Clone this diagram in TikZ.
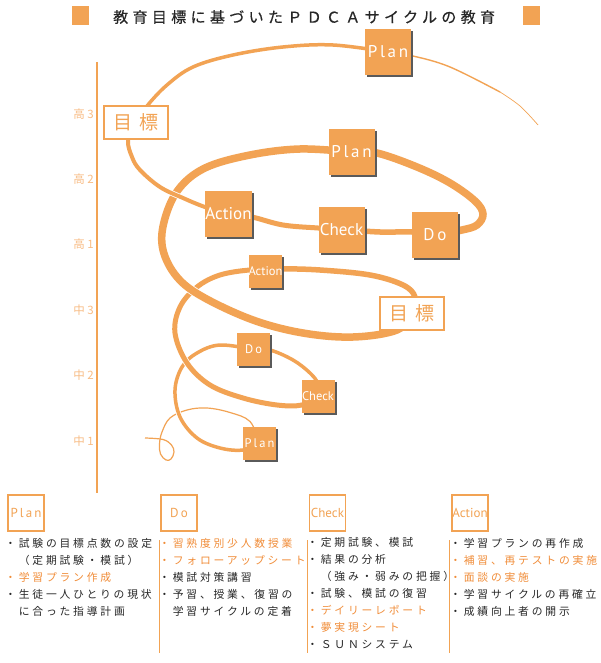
\documentclass[tikz,border=0pt]{standalone}
\usepackage{fontspec}
\usetikzlibrary{shadows}
\newfontfamily\jpfont{Noto Sans CJK JP}
\newfontfamily\titlefont[LetterSpace=29, FakeBold=0.5]{Noto Sans CJK JP}
\newfontfamily\bodyfont[LetterSpace=26]{Noto Sans CJK JP}
\newfontfamily\labelfont{PT Sans}
\newfontfamily\spacedfont[LetterSpace=16]{PT Sans}
\definecolor{coilorange}{HTML}{F2A354}
\definecolor{hilite}{HTML}{F08C38}
\definecolor{paleorange}{HTML}{F7BC85}
\definecolor{ink}{HTML}{262626}
\definecolor{shade}{HTML}{5A5A5A}
\pgfdeclarelayer{bg}
\pgfsetlayers{bg,main}

\begin{document}
\begin{tikzpicture}[
    x=1pt, y=-1pt,
    bigbox/.style={
        fill=coilorange, inner sep=0pt, minimum size=46pt,
        drop shadow={shadow xshift=2pt, shadow yshift=-2pt, fill=shade, opacity=1},
        text=white, font=\labelfont\fontsize{17}{17}\selectfont
    },
    smallbox/.style={
        bigbox, minimum size=33pt,
        font=\labelfont\fontsize{12.5}{12.5}\selectfont
    },
    goal/.style={
        draw=coilorange, line width=2pt, fill=white, inner sep=0pt,
        minimum width=64pt, minimum height=33pt,
        text=coilorange, font=\jpfont\fontsize{19}{19}\selectfont
    },
    headbox/.style={
        draw=coilorange, line width=1.2pt, fill=white, inner sep=0pt,
        minimum size=36pt, text=coilorange,
        font=\labelfont\fontsize{13}{13}\selectfont
    },
    coil/.style={draw=white, line width=0.8pt, double=coilorange, double distance=#1},
    level/.style={anchor=east, inner sep=0pt, text=paleorange,
        font=\jpfont\fontsize{11.5}{11.5}\selectfont},
    item/.style={anchor=base west, inner sep=0pt, text=ink,
        font=\bodyfont\fontsize{10.8}{10.8}\selectfont},
    sep/.style={draw=coilorange, line width=1pt}
]
\useasboundingbox (0,0) rectangle (600,663);

% === Title ===
\node[fill=coilorange, minimum width=17pt, minimum height=19pt, inner sep=0pt] (sqL) at (80.5,16) {};
\node[fill=coilorange, minimum width=17pt, minimum height=19pt, inner sep=0pt] (sqR) at (531,16) {};
\node[anchor=west, inner sep=0pt, text=ink, font=\titlefont\fontsize{15}{15}\selectfont]
    (title) at (113,17) {教育目標に基づいたＰＤＣＡサイクルの教育};

% === Level axis ===
\coordinate (axTop) at (97,62);
\coordinate (axBot) at (97,493);
\draw[coilorange, line width=2pt] (axTop) -- (axBot);
\foreach \lab/\yy [count=\i] in {高 3/114, 高 2/179, 高 1/244, 中 3/310, 中 2/375, 中 1/441}
    \node[level] (lv\i) at (94,\yy) {\lab};

% === Boxes on the coil (top to bottom) ===
\node[bigbox] (planA) at (388,52) {\spacedfont Plan};
\node[goal] (goalA) at (136,122.5) {目\hspace{7pt}標};
\node[bigbox] (planB) at (351.5,152) {\spacedfont Plan};
\node[bigbox] (actionB) at (228.5,213.5) {Action};
\node[bigbox] (checkB) at (341.5,229.5) {Check};
\node[bigbox] (doB) at (435,235) {\spacedfont D\,o};
\node[smallbox] (actionC) at (265.5,271.5) {Action};
\node[goal] (goalC) at (412,313) {目\hspace{7pt}標};
\node[smallbox] (doC) at (253.5,349.5) {\spacedfont D\,o};
\node[smallbox] (checkC) at (318,396.5) {Check};
\node[smallbox] (planC) at (259.5,443) {\spacedfont Plan};

\coordinate (tailS) at (145,438);
\coordinate (tailM) at (500,92);
\coordinate (tailE) at (538,125);

% === The coil, from the bottom tail upwards ===
\begin{pgfonlayer}{bg}
% tail -> Plan
\draw[coil=1.2pt] plot[smooth, tension=0.6] coordinates {(tailS) (163,439.5) (171.5,445) (174,452) (171,459) (166,460) (160.5,454) (159.5,444) (162,432) (170,418) (187,410) (207,408) (230,412.5) (250,421.5) (planC.center)};
% Plan -> Do
\draw[coil=3.5pt] plot[smooth, tension=0.6] coordinates {(planC.center) (243,450) (220,448) (197,438) (180,417) (175,390) (182,367) (197,353) (220,345) (doC.center)};
% Do -> Check
\draw[coil=3.5pt] plot[smooth, tension=0.6] coordinates {(doC.center) (270,350) (293,360) (310,373) (318,384) (checkC.center)};
% Check -> Action
\draw[coil=5pt] plot[smooth, tension=0.6] coordinates {(checkC.center) (302,405) (277,405) (243,398) (210,385) (187,363) (175,333) (180,307) (197,287) (220,275) (250,270) (actionC.center)};
% Action -> goal (middle)
\draw[coil=5.5pt] plot[smooth, tension=0.6] coordinates {(actionC.center) (282,269) (320,270) (370,275) (403,285) (415,297) (goalC.center)};
% goal (middle) -> wide ring -> Plan
\draw[coil=7.5pt] plot[smooth, tension=0.6] coordinates {(goalC.center) (397,330) (353,337) (303,333) (253,320) (203,297) (177,277) (163,250) (164,222) (178,190) (205,168) (250,155) (300,149) (planB.center)};
% Plan -> Do
\draw[coil=7.5pt] plot[smooth, tension=0.6] coordinates {(planB.center) (377,153) (417,167) (450,183) (475,201) (483,214) (477,225) (462,230) (doB.center)};
% Do -> Check
\draw[coil=5.5pt] plot[smooth, tension=0.6] coordinates {(doB.center) (412,232) (380,232) (checkB.center)};
% Check -> Action
\draw[coil=5pt] plot[smooth, tension=0.6] coordinates {(checkB.center) (318,228) (283,225) (252,217) (actionB.center)};
% Action -> goal (top)
\draw[coil=4pt] plot[smooth, tension=0.6] coordinates {(actionB.center) (205,207) (183,198) (160,187) (140,170) (132,157) (128,140) (goalA.center)};
% goal (top) -> Plan
\draw[coil=3.5pt] plot[smooth, tension=0.6] coordinates {(goalA.center) (147,106) (167,85) (193,67) (233,55) (283,47) (333,45) (planA.center)};
% Plan -> fading tail
\draw[coil=1.4pt] plot[smooth, tension=0.6] coordinates {(planA.center) (413,56) (450,67) (tailM)};
\draw[coilorange, line width=0.7pt] plot[smooth, tension=0.6] coordinates {(tailM) (520,106) (tailE)};
\end{pgfonlayer}

% === PDCA columns ===
\node[headbox] (hPlan) at (26,513) {\spacedfont Plan};
\node[headbox] (hDo) at (179,513) {\spacedfont D\,o};
\node[headbox] (hCheck) at (327.5,513) {Check};
\node[headbox] (hAction) at (470,513) {Action};

\coordinate (sDoT) at (159,540);    \coordinate (sDoB) at (159,653);
\coordinate (sChT) at (307,540);    \coordinate (sChB) at (307,653);
\coordinate (sAcT) at (449,540);    \coordinate (sAcB) at (449,653);
\draw[sep] (sDoT) -- (sDoB);
\draw[sep] (sChT) -- (sChB);
\draw[sep] (sAcT) -- (sAcB);

\foreach \txt [count=\i] in {・試験の目標点数の設定, 　（定期試験・模試）, {\color{hilite}・学習プラン作成}, ・生徒一人ひとりの現状, 　に合った指導計画}
    \node[item] (pl\i) at (5,529.9+17.1*\i) {\txt};
\foreach \txt [count=\i] in {{\color{hilite}・習熟度別少人数授業}, {\color{hilite}・フォローアップシート}, ・模試対策講習, ・予習、授業、復習の, 　学習サイクルの定着}
    \node[item] (do\i) at (159,529.9+17.1*\i) {\txt};
\foreach \txt [count=\i] in {・定期試験、模試, ・結果の分析, 　（強み・弱みの把握）, ・試験、模試の復習, {\color{hilite}・デイリーレポート}, {\color{hilite}・夢実現シート}, ・ＳＵＮシステム}
    \node[item] (ch\i) at (307,529.9+16.9*\i) {\txt};
\foreach \txt [count=\i] in {・学習プランの再作成, {\color{hilite}・補習、再テストの実施}, {\color{hilite}・面談の実施}, ・学習サイクルの再確立, ・成績向上者の開示}
    \node[item] (ac\i) at (450,529.9+17.1*\i) {\txt};

\end{tikzpicture}
\end{document}
